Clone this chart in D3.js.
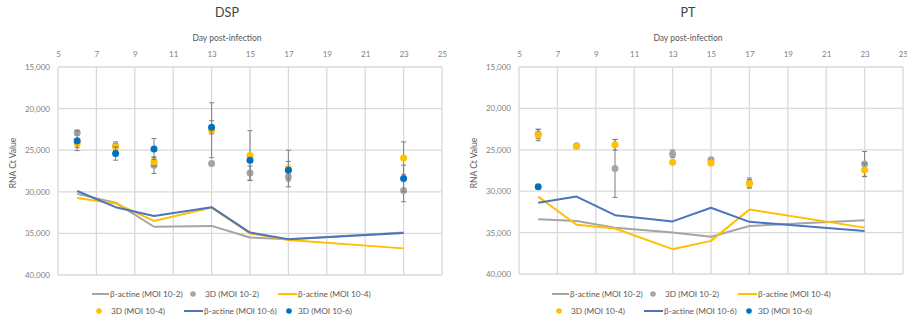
<!DOCTYPE html>
<html>
<head>
<meta charset="utf-8">
<script src="https://cdn.jsdelivr.net/npm/d3@7"></script>
<style>
  html, body { margin: 0; padding: 0; background: #fff; }
  svg { display: block; font-family: Lato, "Open Sans", sans-serif; }
</style>
</head>
<body>
<svg id="chart" width="907" height="320"></svg>
<script>
// ---------- DATA ----------
const days = [6, 8, 10, 13, 15, 17, 23];
const xTicks = [5, 7, 9, 11, 13, 15, 17, 19, 21, 23, 25];
const yTicks = [15, 20, 25, 30, 35, 40];

const seriesNames = ["β-actine (MOI 10-2)", "3D (MOI 10-2)", "β-actine (MOI 10-4)",
                     "3D (MOI 10-4)", "β-actine (MOI 10-6)", "3D (MOI 10-6)"];

// DSP
const dspActin2 = [30.25, 31.3, 34.2, 34.1, 35.5, 35.7, 34.9];
const dspActin4 = [30.75, 31.4, 33.5, 31.9, 35.0, 35.8, 36.8];
const dspActin6 = [29.9, 31.85, 32.9, 31.85, 34.9, 35.7, 34.95];
const dsp3D2 = [22.9, 24.5, 26.8, 26.6, 27.75, 28.2, 29.85];
const dsp3D2Err = [0.3, 0.5, 1.0, 0.2, 0.85, 0.5, 1.35];
const dsp3D4 = [24.2, 24.6, 26.4, 22.6, 25.65, 27.2, 25.95];
const dsp3D4Err = [0.5, 0.4, 0.5, 3.3, 3.0, 2.2, 1.95];
const dsp3D6 = [23.85, 25.4, 24.85, 22.25, 26.2, 27.4, 28.4];
const dsp3D6Err = [1.2, 0.8, 1.25, 0.8, 0.3, 1.05, 1.6];

// PT
const ptActin2 = [33.4, 33.6, 34.4, 35.0, 35.5, 34.2, 33.5];
const ptActin4 = [30.65, 34.05, 34.5, 37.0, 36.0, 32.2, 34.4];
const ptActin6 = [31.4, 30.65, 32.9, 33.65, 32.0, 33.7, 34.8];
const pt3D2 = [23.1, 24.5, 27.25, 25.5, 26.2, 29.0, 26.7];
const pt3D2Err = [0.55, 0.2, 3.5, 0.45, 0.2, 0.6, 1.5];
const pt3D4 = [23.2, 24.6, 24.4, 26.5, 26.6, 29.1, 27.45];
const pt3D4Err = [0.7, 0.2, 0.65, 0.2, 0.2, 0.5, 0.8];
const pt3D6 = [29.45, null, null, null, null, null, null];
const pt3D6Err = [0, null, null, null, null, null, null];

// ---------- STYLE ----------
const cGrey = "#A5A5A5", cYellow = "#FFC000", cBlueLine = "#4F74BE", cBlueDot = "#0070C0";
const cErr = "#7F7F7F", cGrid = "#D9D9D9", cText = "#595959", cTick = "#7F7F7F";

const locale = d3.formatLocale({decimal: ",", thousands: ".", grouping: [3], currency: ["", ""]});
const fmtY = locale.format(".3f");

const svg = d3.select("#chart");

function drawChart(cfg) {
  const g = svg.append("g");
  const x = d3.scaleLinear().domain([5, 25]).range([cfg.left, cfg.right]);
  const y = d3.scaleLinear().domain([15, 40]).range([cfg.top, cfg.bottom]);
  const cx = (cfg.left + cfg.right) / 2 - 23;

  // title
  g.append("text").attr("x", cx).attr("y", 17)
    .attr("text-anchor", "middle").attr("font-size", 12.5).attr("fill", "#404040")
    .text(cfg.title);
  // x axis title
  g.append("text").attr("x", cx).attr("y", 41)
    .attr("text-anchor", "middle").attr("font-size", 8.5).attr("fill", cText)
    .text("Day post-infection");
  // y axis title
  g.append("text").attr("transform", `translate(${cfg.left - 42},${163}) rotate(-90)`)
    .attr("text-anchor", "middle").attr("font-size", 8.5).attr("fill", cText)
    .text("RNA Ct Value");

  // grid
  const grid = g.append("g");
  grid.selectAll("line.v").data(xTicks).join("line")
    .attr("x1", d => x(d)).attr("x2", d => x(d))
    .attr("y1", cfg.top).attr("y2", cfg.bottom)
    .attr("stroke", cGrid).attr("stroke-width", 1.3);
  grid.selectAll("line.h").data(yTicks).join("line")
    .attr("x1", cfg.left).attr("x2", cfg.right)
    .attr("y1", d => y(d)).attr("y2", d => y(d))
    .attr("stroke", cGrid).attr("stroke-width", 1.3);

  // axes (top x axis, left y axis), domain hidden
  const xAxis = g.append("g").attr("transform", `translate(0,${cfg.top})`)
    .call(d3.axisTop(x).tickValues(xTicks).tickSize(0).tickPadding(10).tickFormat(d3.format("d")));
  const yAxis = g.append("g").attr("transform", `translate(${cfg.left},0)`)
    .call(d3.axisLeft(y).tickValues(yTicks).tickSize(0).tickPadding(8).tickFormat(fmtY));
  [xAxis, yAxis].forEach(a => {
    a.select(".domain").remove();
    a.selectAll("text").attr("fill", cTick).attr("font-size", 8)
      .attr("font-family", "Lato, 'Open Sans', sans-serif");
  });

  const line = d3.line().defined(d => d[1] != null).x(d => x(d[0])).y(d => y(d[1]));

  function drawLine(vals, color) {
    g.append("path").datum(days.map((d, i) => [d, vals[i]]))
      .attr("d", line).attr("fill", "none").attr("stroke", color)
      .attr("stroke-width", 2).attr("stroke-linejoin", "round");
  }
  function drawDots(vals, errs, color) {
    const data = days.map((d, i) => ({d, v: vals[i], e: errs[i]})).filter(o => o.v != null);
    const eg = g.append("g").attr("stroke", cErr).attr("stroke-width", 1);
    data.filter(o => o.e > 0).forEach(o => {
      eg.append("line").attr("x1", x(o.d)).attr("x2", x(o.d))
        .attr("y1", y(o.v - o.e)).attr("y2", y(o.v + o.e));
      [o.v - o.e, o.v + o.e].forEach(t => {
        eg.append("line").attr("x1", x(o.d) - 2.5).attr("x2", x(o.d) + 2.5)
          .attr("y1", y(t)).attr("y2", y(t));
      });
    });
    g.append("g").selectAll("circle").data(data).join("circle")
      .attr("cx", o => x(o.d)).attr("cy", o => y(o.v)).attr("r", 3.5)
      .attr("fill", color);
  }

  drawLine(cfg.a2, cGrey);
  drawDots(cfg.d2, cfg.e2, cGrey);
  drawLine(cfg.a4, cYellow);
  drawDots(cfg.d4, cfg.e4, cYellow);
  drawLine(cfg.a6, cBlueLine);
  drawDots(cfg.d6, cfg.e6, cBlueDot);

  // legend
  const off = cfg.legendOffset;
  const lg = g.append("g").attr("font-size", 8.3).attr("fill", cText);
  const items = [
    {type: "line", color: cGrey, x1: 92, x2: 109, tx: 110, y: 294, name: seriesNames[0]},
    {type: "dot", color: cGrey, cx: 193, tx: 205, y: 294, name: seriesNames[1]},
    {type: "line", color: cYellow, x1: 278, x2: 297, tx: 298, y: 294, name: seriesNames[2]},
    {type: "dot", color: cYellow, cx: 99, tx: 111, y: 311, name: seriesNames[3]},
    {type: "line", color: cBlueLine, x1: 184, x2: 203, tx: 204, y: 311, name: seriesNames[4]},
    {type: "dot", color: cBlueDot, cx: 289, tx: 298, y: 311, name: seriesNames[5]}
  ];
  items.forEach(it => {
    if (it.type === "line") {
      lg.append("line").attr("x1", it.x1 + off).attr("x2", it.x2 + off)
        .attr("y1", it.y).attr("y2", it.y).attr("stroke", it.color).attr("stroke-width", 2);
    } else {
      lg.append("circle").attr("cx", it.cx + off).attr("cy", it.y).attr("r", 2.8).attr("fill", it.color);
    }
    lg.append("text").attr("x", it.tx + off).attr("y", it.y + 3).text(it.name);
  });
}

drawChart({title: "DSP", left: 58, right: 442, top: 67, bottom: 275, legendOffset: 0,
  a2: dspActin2, a4: dspActin4, a6: dspActin6,
  d2: dsp3D2, e2: dsp3D2Err, d4: dsp3D4, e4: dsp3D4Err, d6: dsp3D6, e6: dsp3D6Err});
drawChart({title: "PT", left: 519, right: 903, top: 67, bottom: 274, legendOffset: 460,
  a2: ptActin2, a4: ptActin4, a6: ptActin6,
  d2: pt3D2, e2: pt3D2Err, d4: pt3D4, e4: pt3D4Err, d6: pt3D6, e6: pt3D6Err});
</script>
</body>
</html>
